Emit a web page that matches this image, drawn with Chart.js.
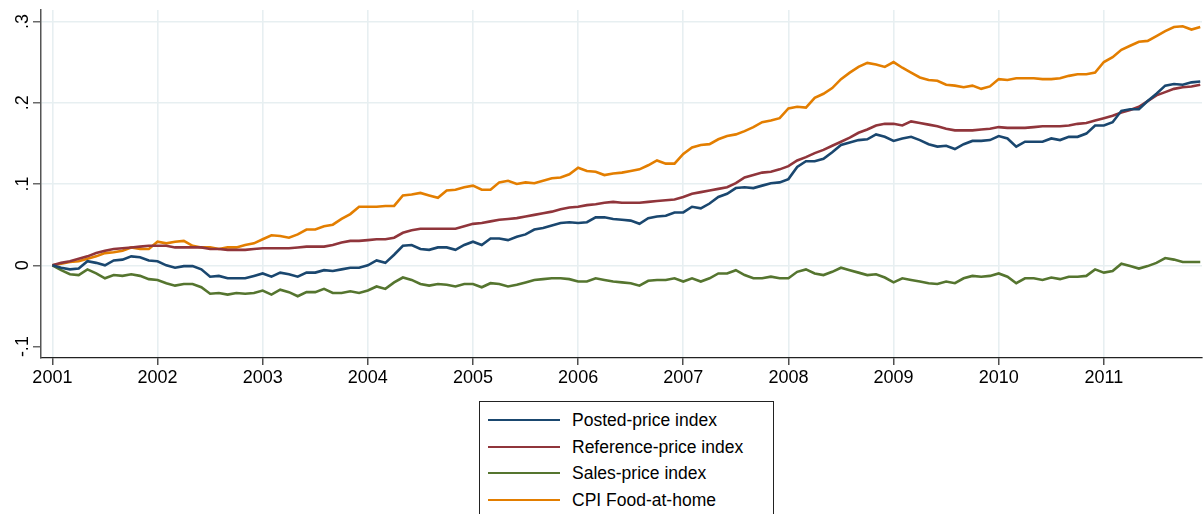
<!DOCTYPE html>
<html>
<head>
<meta charset="utf-8">
<script src="https://cdn.jsdelivr.net/npm/chart.js@4.4.1/dist/chart.umd.min.js"></script>
<style>
  html, body { margin: 0; padding: 0; background: #fff; }
  #wrap { position: relative; width: 1203px; height: 514px; }
  #legend {
    position: absolute; left: 479px; top: 401px; width: 295px; height: 130px;
    border: 1px solid #222; box-sizing: border-box; background: #fff;
    font-family: "Liberation Sans", Arial, sans-serif; font-size: 17.5px; color: #000;
    padding-top: 5px;
  }
  .item { position: relative; height: 26.5px; line-height: 26.5px; }
  .item .swatch { position: absolute; left: 8px; top: 12px; width: 72px; height: 2px; }
  .item .label { position: absolute; left: 92px; top: 0; white-space: nowrap; }
</style>
</head>
<body>
<div id="wrap">
  <canvas id="chart" width="1203" height="514"></canvas>
  <div id="legend"></div>
</div>
<script>
const yearLabels = ['2001', '2002', '2003', '2004', '2005', '2006', '2007', '2008', '2009', '2010', '2011'];
const yTickValues = [-0.1, 0, 0.1, 0.2, 0.3];
const yTickLabels = ['-.1', '0', '.1', '.2', '.3'];
const seriesNames = ['Posted-price index', 'Reference-price index', 'Sales-price index', 'CPI Food-at-home'];
const seriesColors = ['#1a476f', '#90353b', '#55752f', '#e37e00'];

// monthly values, Jan 2001 .. Dec 2011, one row per year
const posted = [
  0, -0.003, -0.005, -0.004, 0.005, 0.003, 0.000, 0.006, 0.007, 0.011, 0.010, 0.006,
  0.005, 0.000, -0.003, -0.001, -0.001, -0.005, -0.014, -0.013, -0.016, -0.016, -0.016, -0.013,
  -0.010, -0.014, -0.009, -0.011, -0.014, -0.009, -0.009, -0.006, -0.007, -0.005, -0.003, -0.003,
  0.000, 0.006, 0.003, 0.013, 0.024, 0.025, 0.020, 0.019, 0.022, 0.022, 0.019, 0.025,
  0.029, 0.025, 0.033, 0.033, 0.031, 0.035, 0.038, 0.044, 0.046, 0.049, 0.052, 0.053,
  0.052, 0.053, 0.059, 0.059, 0.057, 0.056, 0.055, 0.051, 0.058, 0.060, 0.061, 0.065,
  0.065, 0.072, 0.070, 0.076, 0.084, 0.088, 0.095, 0.096, 0.095, 0.098, 0.101, 0.102,
  0.106, 0.121, 0.128, 0.128, 0.131, 0.139, 0.148, 0.151, 0.154, 0.155, 0.161, 0.158,
  0.153, 0.156, 0.158, 0.154, 0.149, 0.146, 0.147, 0.143, 0.149, 0.153, 0.153, 0.154,
  0.159, 0.156, 0.146, 0.152, 0.152, 0.152, 0.156, 0.154, 0.158, 0.158, 0.162, 0.172,
  0.172, 0.176, 0.190, 0.192, 0.192, 0.202, 0.211, 0.221, 0.223, 0.222, 0.225, 0.226
];
const reference = [
  0, 0.003, 0.005, 0.008, 0.011, 0.015, 0.018, 0.020, 0.021, 0.022, 0.023, 0.024,
  0.024, 0.024, 0.022, 0.022, 0.022, 0.022, 0.020, 0.020, 0.019, 0.019, 0.019, 0.020,
  0.021, 0.021, 0.021, 0.021, 0.022, 0.023, 0.023, 0.023, 0.025, 0.028, 0.030, 0.030,
  0.031, 0.032, 0.032, 0.034, 0.040, 0.043, 0.045, 0.045, 0.045, 0.045, 0.045, 0.048,
  0.051, 0.052, 0.054, 0.056, 0.057, 0.058, 0.060, 0.062, 0.064, 0.066, 0.069, 0.071,
  0.072, 0.074, 0.075, 0.077, 0.078, 0.077, 0.077, 0.077, 0.078, 0.079, 0.080, 0.081,
  0.084, 0.088, 0.090, 0.092, 0.094, 0.096, 0.101, 0.108, 0.111, 0.114, 0.115, 0.118,
  0.122, 0.129, 0.133, 0.138, 0.142, 0.147, 0.152, 0.157, 0.163, 0.167, 0.172, 0.174,
  0.174, 0.172, 0.177, 0.175, 0.173, 0.171, 0.168, 0.166, 0.166, 0.166, 0.167, 0.168,
  0.170, 0.169, 0.169, 0.169, 0.170, 0.171, 0.171, 0.171, 0.172, 0.174, 0.175, 0.178,
  0.181, 0.184, 0.188, 0.191, 0.195, 0.202, 0.209, 0.213, 0.217, 0.219, 0.220, 0.222
];
const sales = [
  0, -0.006, -0.011, -0.012, -0.005, -0.010, -0.016, -0.012, -0.013, -0.011, -0.013, -0.017,
  -0.018, -0.022, -0.025, -0.023, -0.023, -0.027, -0.035, -0.034, -0.036, -0.034, -0.035, -0.034,
  -0.031, -0.036, -0.030, -0.033, -0.038, -0.033, -0.033, -0.029, -0.034, -0.034, -0.032, -0.034,
  -0.031, -0.026, -0.029, -0.021, -0.015, -0.018, -0.023, -0.025, -0.023, -0.024, -0.026, -0.023,
  -0.023, -0.027, -0.022, -0.023, -0.026, -0.024, -0.021, -0.018, -0.017, -0.016, -0.016, -0.017,
  -0.020, -0.020, -0.016, -0.018, -0.020, -0.021, -0.022, -0.025, -0.019, -0.018, -0.018, -0.016,
  -0.020, -0.016, -0.020, -0.016, -0.010, -0.010, -0.006, -0.012, -0.016, -0.016, -0.014, -0.016,
  -0.016, -0.008, -0.005, -0.010, -0.012, -0.008, -0.003, -0.006, -0.009, -0.012, -0.011, -0.015,
  -0.021, -0.016, -0.018, -0.020, -0.022, -0.023, -0.020, -0.022, -0.016, -0.013, -0.014, -0.013,
  -0.010, -0.014, -0.022, -0.016, -0.016, -0.018, -0.015, -0.017, -0.014, -0.014, -0.013, -0.005,
  -0.009, -0.007, 0.002, -0.001, -0.004, -0.001, 0.003, 0.009, 0.007, 0.004, 0.004, 0.004
];
const cpiFood = [
  0, 0.002, 0.004, 0.005, 0.008, 0.011, 0.015, 0.016, 0.018, 0.022, 0.020, 0.020,
  0.029, 0.027, 0.029, 0.030, 0.024, 0.022, 0.022, 0.020, 0.022, 0.022, 0.025, 0.027,
  0.032, 0.037, 0.036, 0.034, 0.038, 0.044, 0.044, 0.048, 0.050, 0.057, 0.063, 0.072,
  0.072, 0.072, 0.073, 0.073, 0.086, 0.087, 0.089, 0.086, 0.083, 0.092, 0.093, 0.096,
  0.098, 0.093, 0.093, 0.102, 0.104, 0.100, 0.102, 0.101, 0.104, 0.107, 0.108, 0.112,
  0.120, 0.116, 0.115, 0.111, 0.113, 0.114, 0.116, 0.118, 0.123, 0.129, 0.125, 0.125,
  0.137, 0.145, 0.148, 0.149, 0.155, 0.159, 0.161, 0.165, 0.170, 0.176, 0.178, 0.181,
  0.193, 0.195, 0.194, 0.206, 0.211, 0.218, 0.229, 0.237, 0.244, 0.249, 0.247, 0.244,
  0.250, 0.243, 0.237, 0.231, 0.228, 0.227, 0.222, 0.221, 0.219, 0.221, 0.217, 0.220,
  0.229, 0.228, 0.230, 0.230, 0.230, 0.229, 0.229, 0.230, 0.233, 0.235, 0.235, 0.237,
  0.250, 0.256, 0.265, 0.270, 0.275, 0.276, 0.282, 0.288, 0.293, 0.294, 0.290, 0.293
];

const allSeries = [posted, reference, sales, cpiFood];
const fontFamily = '"Liberation Sans", Arial, sans-serif';

// month index on x; a year tick every 12 months
function toPoints(values) {
  return values.map(function (v, i) { return { x: i, y: v }; });
}

const rotatedYLabels = {
  id: 'rotatedYLabels',
  afterDraw: function (chart) {
    const ctx = chart.ctx;
    const yScale = chart.scales.y;
    ctx.save();
    ctx.fillStyle = '#000';
    ctx.font = '18px ' + fontFamily;
    ctx.textAlign = 'center';
    ctx.textBaseline = 'middle';
    yTickValues.forEach(function (v, i) {
      const py = yScale.getPixelForValue(v);
      ctx.save();
      ctx.translate(23, py);
      ctx.rotate(-Math.PI / 2);
      ctx.fillText(yTickLabels[i], 0, 0);
      ctx.restore();
    });
    ctx.restore();
  }
};

const chart = new Chart(document.getElementById('chart').getContext('2d'), {
  type: 'line',
  data: {
    datasets: allSeries.map(function (s, i) {
      return {
        label: seriesNames[i],
        data: toPoints(s),
        borderColor: seriesColors[i],
        backgroundColor: seriesColors[i],
        borderWidth: 2.6,
        pointRadius: 0,
        tension: 0,
        fill: false
      };
    })
  },
  options: {
    responsive: false,
    animation: false,
    layout: { padding: { top: 10, right: 1, left: 0, bottom: 0 } },
    plugins: {
      legend: { display: false },
      tooltip: { enabled: false }
    },
    scales: {
      x: {
        type: 'linear',
        min: -1.3,
        max: 131.2,
        afterFit: function (scale) { scale.height = 156; },
        afterBuildTicks: function (scale) {
          scale.ticks = yearLabels.map(function (y, i) { return { value: i * 12 }; });
        },
        ticks: {
          color: '#000',
          font: { family: fontFamily, size: 18 },
          padding: 2,
          maxRotation: 0,
          minRotation: 0,
          callback: function (value) { return yearLabels[Math.round(value / 12)]; }
        },
        grid: {
          color: '#e7eff1',
          lineWidth: 1.6,
          tickColor: '#222',
          tickWidth: 1.2,
          tickLength: 7
        },
        border: { color: '#222', width: 1.3 }
      },
      y: {
        min: -0.114,
        max: 0.314,
        afterFit: function (scale) { scale.width = 41; },
        afterBuildTicks: function (scale) {
          scale.ticks = yTickValues.map(function (v) { return { value: v }; });
        },
        ticks: { display: false },
        grid: {
          color: function (c) { return c.tick && c.tick.value < -0.05 ? 'rgba(0,0,0,0)' : '#e7eff1'; },
          lineWidth: 1.6,
          tickColor: '#444',
          tickWidth: 1.2,
          tickLength: 8
        },
        border: { color: '#555', width: 1.5 }
      }
    }
  },
  plugins: [rotatedYLabels]
});

// legend box below the plot, built from the chart's datasets
const legendEl = document.getElementById('legend');
chart.data.datasets.forEach(function (ds) {
  const row = document.createElement('div');
  row.className = 'item';
  row.innerHTML = '<span class="swatch" style="background:' + ds.borderColor + '"></span>' +
    '<span class="label">' + ds.label + '</span>';
  legendEl.appendChild(row);
});
</script>
</body>
</html>
